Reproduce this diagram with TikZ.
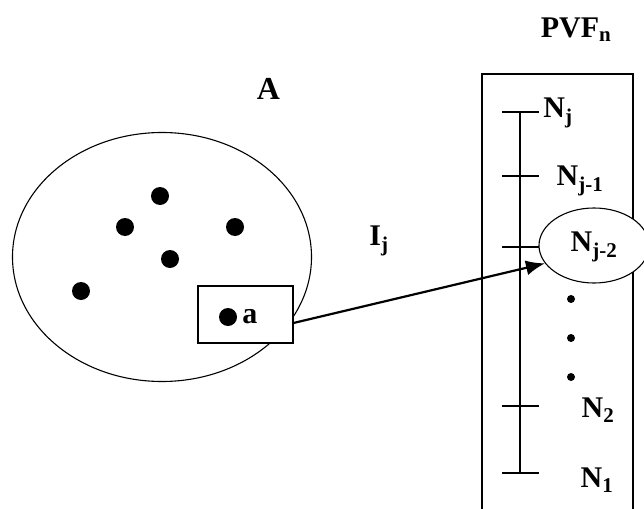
\documentclass[tikz,border=0pt]{standalone}
\usepackage{fontspec}
\setmainfont{Liberation Serif}
\usetikzlibrary{arrows.meta, positioning, shapes.geometric}
\tikzset{
    setellipse/.style={
        draw,
        ellipse,
        line width=1.1pt,
        minimum width=299pt,
        minimum height=249pt
    },
    elem/.style={circle, fill, inner sep=0pt, minimum size=18pt},
    smalldot/.style={circle, fill, inner sep=0pt, minimum size=8pt},
    elembox/.style={draw, fill=white, line width=1.1pt, minimum width=95pt, minimum height=57pt},
    levelnode/.style={draw, ellipse, fill=white, line width=1.1pt, minimum width=110pt, minimum height=75pt},
    lbl/.style={font=\fontsize{30}{32}\selectfont\bfseries, inner sep=0pt},
    tickline/.style={line width=1.1pt},
    line/.style={-{Latex[length=19pt,width=15pt]}, line width=2.2pt}
}

\begin{document}
\begin{tikzpicture}[x=1pt, y=-1pt]
\useasboundingbox (0,0) rectangle (644,508);

% set A with its elements
\node[setellipse] (setA) at (162,257) {};
\node[lbl, font=\fontsize{32}{34}\selectfont\bfseries] (labA) at (268.5,89) {A};
\node[elem] (e1) at (160,196) {};
\node[elem] (e2) at (125,227) {};
\node[elem] (e3) at (235,227) {};
\node[elem] (e4) at (170,259) {};
\node[elem] (e5) at (81,291) {};

\node[elembox] (abox) at (245.5,314.5) {};
\node[elem] (ea) at (228,317) {};
\node[lbl, right=5pt of ea] (laba) {a};

% PVF column
\draw[tickline] (482,520) -- (482,74) -- (633,74) -- (633,520);
\node[lbl] (pvf) at (576,30) {PVF\textsubscript{n}};
\draw[tickline] (520,112) coordinate (top) -- (520,473) coordinate (bot);
\foreach \y in {112,176,247,406,473}
    \draw[tickline] (502,\y) -- (539,\y);

\node[levelnode] (nj2) at (594,245.5) {};
\node[lbl] (lnj2) at (594,247) {N\textsubscript{j-2}};
\node[lbl] (lnj) at (558,113) {N\textsubscript{j}};
\node[lbl] (lnj1) at (580,181) {N\textsubscript{j-1}};
\node[lbl] (ln2) at (598,410) {N\textsubscript{2}};
\node[lbl] (ln1) at (597,480) {N\textsubscript{1}};

\node[smalldot] (d1) at (571,299) {};
\node[smalldot] (d2) at (571,338) {};
\node[smalldot] (d3) at (571,377) {};

\node[lbl] (lij) at (379,241) {I\textsubscript{j}};

\draw[line] (abox.-10) -- (nj2.200);
\end{tikzpicture}
\end{document}
